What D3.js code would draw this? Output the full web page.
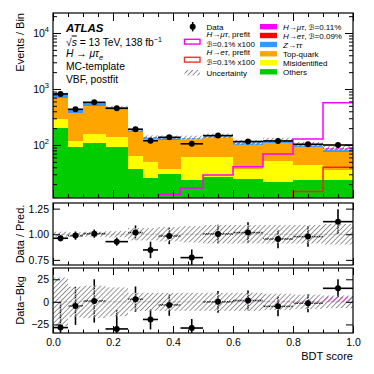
<!DOCTYPE html>
<html>
<head>
<meta charset="utf-8">
<script src="https://cdn.jsdelivr.net/npm/d3@7"></script>
<style>
body { margin: 0; background: #fff; }
text { font-family: "Liberation Sans", Arial, Helvetica, "DejaVu Sans", sans-serif; fill: #000; }
</style>
</head>
<body>
<script>
// BDT score bin edges
var edges = [0, 0.05, 0.1, 0.175, 0.25, 0.3, 0.35, 0.425, 0.5, 0.6, 0.7, 0.8, 0.9, 1.0];

// Postfit yields per bin (stacked bottom-up)
var others  = [199, 91, 109, 93, 37, 26, 30, 24, 27, 25, 22, 24, 24];
var misid   = [92, 27, 48, 44, 27, 24, 7, 38, 33, 12, 30, 20, 12];
var topq    = [389, 257, 346, 327, 105, 78, 86, 64, 72, 63, 55, 49, 40];
var ztt     = [160, 62, 70, 22, 18, 12, 15, 10, 14, 12, 16, 10, 8];
var hetPost = [0, 0, 0, 0, 0, 0, 0, 0, 0.1, 0.2, 0.3, 0.4, 0.5];
var hmtPost = [0, 0, 0, 0, 0, 0, 0, 0, 0.2, 0.3, 0.5, 1.0, 5];

// relative uncertainty of the prediction
var relUnc = [0.025, 0.02, 0.025, 0.03, 0.06, 0.06, 0.07, 0.08, 0.09, 0.09, 0.09, 0.09, 0.1];

// Prefit signals, B=0.1% x100
var prefitMuTau = [3, 3, 4, 5, 7, 9, 13, 17, 29, 41, 69, 128, 569];
var prefitETau  = [1, 1, 1, 1, 1, 1, 2, 2, 3, 5, 8, 14.7, 40];

// Data
var data    = [815, 434, 578, 452, 191, 119, 137, 105, 147, 115, 118, 103, 100];
var dataErr = [29, 21, 24, 21, 14, 11, 12, 10, 12, 11, 11, 10, 10];

// Data / Pred.
var ratio    = [0.961, 0.987, 1.006, 0.928, 1.016, 0.847, 0.983, 0.772, 1.003, 1.016, 0.954, 0.977, 1.123];
var ratioErr = [0.03, 0.04, 0.04, 0.04, 0.07, 0.08, 0.08, 0.08, 0.09, 0.1, 0.09, 0.1, 0.12];

// Data - Bkg
var diff   = [-28.5, -4.5, 1, -30, 3, -19.5, -3.4, -29, 0, 1.5, -5, -1.5, 15];
var bkgUnc = [27, 17, 18, 16, 10, 10, 10, 10, 10, 10, 9, 8, 7];

// ticks
var xTicks = [0, 0.2, 0.4, 0.6, 0.8, 1.0];
var xMinor = d3.range(0, 1.0001, 0.05);
var yTopTicks = [100, 1000, 10000];
var ratioTicks = [0.75, 1.0, 1.25];
var diffTicks = [-25, 0, 25];

var keys = ["others", "misid", "topq", "ztt", "hetPost", "hmtPost"];
var colors = {others: "#00cc00", misid: "#ffff00", topq: "#ffa500", ztt: "#3399ff", hetPost: "#ff0000", hmtPost: "#ff00ff"};

var W = 374, H = 374;
var L = 53, R = 353;
var pTop = [13, 198], pRat = [203, 265], pDif = [268, 333];

var x = d3.scaleLinear().domain([0, 1]).range([L, R]);
var yTop = d3.scaleLog().domain([11.3, 22750]).range([pTop[1], pTop[0]]);
var yRat = d3.scaleLinear().domain([0.7, 1.305]).range([pRat[1], pRat[0]]);
var yDif = d3.scaleLinear().domain([-34.5, 37.5]).range([pDif[1], pDif[0]]);

var table = edges.slice(0, -1).map(function(e, i) {
	return {i: i, x0: e, x1: edges[i+1], others: others[i], misid: misid[i], topq: topq[i],
			ztt: ztt[i], hetPost: hetPost[i], hmtPost: hmtPost[i]};
});
var series = d3.stack().keys(keys)(table);
var total = table.map(function(d) { return d3.sum(keys, function(k) { return d[k]; }); });

var svg = d3.select("body").append("svg").attr("width", W).attr("height", H);
var defs = svg.append("defs");

function hatch(id, color, bg, w) {
	var p = defs.append("pattern").attr("id", id)
		.attr("patternUnits", "userSpaceOnUse")
		.attr("width", 3.5).attr("height", 3.5)
		.attr("patternTransform", "rotate(45)");
	p.append("rect").attr("x", 0).attr("y", 0).attr("width", w).attr("height", 3.5).attr("fill", color);
	if (bg) p.append("rect").attr("x", 1.75).attr("y", 0).attr("width", 1).attr("height", 3.5).attr("fill", bg);
}
hatch("hgrey", "#8c8c8c", "#fff", 0.9);
hatch("hmag", "#ff00ff", null, 1.3);

function clip(id, p) {
	defs.append("clipPath").attr("id", id).append("rect")
		.attr("x", L).attr("y", p[0]).attr("width", R - L).attr("height", p[1] - p[0]);
}
clip("cTop", pTop); clip("cRat", pRat); clip("cDif", pDif);

function stepLine(vals, yS) {
	var pts = vals.map(function(v, i) { return [edges[i], v]; });
	pts.push([edges[edges.length-1], vals[vals.length-1]]);
	return d3.line().curve(d3.curveStepAfter)
		.x(function(d) { return x(d[0]); })
		.y(function(d) { return yS(d[1]); })(pts);
}

// ---- main panel ----
var gTop = svg.append("g").attr("clip-path", "url(#cTop)");

series.forEach(function(s) {
	gTop.selectAll(null).data(s).enter().append("rect")
		.attr("x", function(d) { return x(d.data.x0); })
		.attr("width", function(d) { return x(d.data.x1) - x(d.data.x0); })
		.attr("y", function(d) { return yTop(Math.max(d[1], 1)); })
		.attr("height", function(d) { return Math.max(0, yTop(Math.max(d[0], 1)) - yTop(Math.max(d[1], 1))); })
		.attr("fill", colors[s.key])
		.attr("shape-rendering", "crispEdges");
});

gTop.selectAll(null).data(table).enter().append("rect")
	.attr("x", function(d) { return x(d.x0); })
	.attr("width", function(d) { return x(d.x1) - x(d.x0); })
	.attr("y", function(d) { return yTop(total[d.i] * (1 + relUnc[d.i])); })
	.attr("height", function(d) { return yTop(total[d.i] * (1 - relUnc[d.i])) - yTop(total[d.i] * (1 + relUnc[d.i])); })
	.attr("fill", "url(#hgrey)");

gTop.append("path").attr("d", stepLine(prefitETau, yTop))
	.attr("fill", "none").attr("stroke", "#ff2020").attr("stroke-width", 1.5);
gTop.append("path").attr("d", stepLine(prefitMuTau, yTop))
	.attr("fill", "none").attr("stroke", "#ff00ff").attr("stroke-width", 1.5);

function drawPoints(g, vals, errs, yS) {
	g.selectAll(null).data(table).enter().append("line")
		.attr("x1", function(d) { return x(d.x0); }).attr("x2", function(d) { return x(d.x1); })
		.attr("y1", function(d) { return yS(vals[d.i]); }).attr("y2", function(d) { return yS(vals[d.i]); })
		.attr("stroke", "#000").attr("stroke-width", 1.6);
	g.selectAll(null).data(table).enter().append("line")
		.attr("x1", function(d) { return x((d.x0 + d.x1) / 2); }).attr("x2", function(d) { return x((d.x0 + d.x1) / 2); })
		.attr("y1", function(d) { return yS(vals[d.i] - errs[d.i]); }).attr("y2", function(d) { return yS(vals[d.i] + errs[d.i]); })
		.attr("stroke", "#000").attr("stroke-width", 1.6);
}
function drawMarkers(g, vals, yS) {
	g.selectAll(null).data(table).enter().append("circle")
		.attr("cx", function(d) { return x((d.x0 + d.x1) / 2); })
		.attr("cy", function(d) { return yS(vals[d.i]); })
		.attr("r", 3).attr("fill", "#000");
}
drawPoints(gTop, data, dataErr, yTop);
drawMarkers(gTop, data, yTop);

// ---- ratio panel ----
var gRat = svg.append("g").attr("clip-path", "url(#cRat)");
gRat.append("line").attr("x1", L).attr("x2", R).attr("y1", yRat(1)).attr("y2", yRat(1))
	.attr("stroke", "#b0b0b0").attr("stroke-width", 1);
drawPoints(gRat, ratio, ratioErr, yRat);
gRat.selectAll(null).data(table).enter().append("rect")
	.attr("x", function(d) { return x(d.x0); })
	.attr("width", function(d) { return x(d.x1) - x(d.x0); })
	.attr("y", function(d) { return yRat(1 + relUnc[d.i]); })
	.attr("height", function(d) { return yRat(1 - relUnc[d.i]) - yRat(1 + relUnc[d.i]); })
	.attr("fill", "url(#hgrey)");
drawMarkers(gRat, ratio, yRat);

// ---- data - bkg panel ----
var gDif = svg.append("g").attr("clip-path", "url(#cDif)");
gDif.append("line").attr("x1", L).attr("x2", R).attr("y1", yDif(0)).attr("y2", yDif(0))
	.attr("stroke", "#b0b0b0").attr("stroke-width", 1);
gDif.selectAll(null).data(table).enter().append("rect")
	.attr("x", function(d) { return x(d.x0); })
	.attr("width", function(d) { return x(d.x1) - x(d.x0); })
	.attr("y", function(d) { return yDif(hmtPost[d.i] + hetPost[d.i]); })
	.attr("height", function(d) { return yDif(0) - yDif(hmtPost[d.i] + hetPost[d.i]); })
	.attr("fill", "url(#hmag)");
drawPoints(gDif, diff, dataErr, yDif);
gDif.selectAll(null).data(table).enter().append("rect")
	.attr("x", function(d) { return x(d.x0); })
	.attr("width", function(d) { return x(d.x1) - x(d.x0); })
	.attr("y", function(d) { return yDif(bkgUnc[d.i]); })
	.attr("height", function(d) { return yDif(-bkgUnc[d.i]) - yDif(bkgUnc[d.i]); })
	.attr("fill", "url(#hgrey)");
drawMarkers(gDif, diff, yDif);

// ---- frames and axes ----
function frame(p, yS, major, minor, fmt, majLen, minLen) {
	var g = svg.append("g");
	g.append("g").attr("transform", "translate(0," + p[1] + ")")
		.call(d3.axisBottom(x).tickValues(xMinor).tickSize(-minLen).tickFormat(""));
	g.append("g").attr("transform", "translate(0," + p[1] + ")").attr("class", "xlab")
		.call(d3.axisBottom(x).tickValues(xTicks).tickSize(-majLen).tickPadding(6).tickFormat(d3.format(".1f")));
	g.append("g").attr("transform", "translate(0," + p[0] + ")")
		.call(d3.axisTop(x).tickValues(xMinor).tickSize(-minLen).tickFormat(""));
	g.append("g").attr("transform", "translate(0," + p[0] + ")")
		.call(d3.axisTop(x).tickValues(xTicks).tickSize(-majLen).tickFormat(""));
	g.append("g").attr("transform", "translate(" + L + ",0)").attr("class", "ylab")
		.call(d3.axisLeft(yS).tickValues(major).tickSize(-majLen).tickPadding(4).tickFormat(fmt));
	g.append("g").attr("transform", "translate(" + R + ",0)")
		.call(d3.axisRight(yS).tickValues(major).tickSize(-majLen).tickFormat(""));
	if (minor) {
		g.append("g").attr("transform", "translate(" + L + ",0)")
			.call(d3.axisLeft(yS).tickValues(minor).tickSize(-minLen).tickFormat(""));
		g.append("g").attr("transform", "translate(" + R + ",0)")
			.call(d3.axisRight(yS).tickValues(minor).tickSize(-minLen).tickFormat(""));
	}
	g.selectAll(".domain").remove();
	g.selectAll(".tick line").attr("stroke", "#000").attr("stroke-width", 1);
	g.selectAll("text").attr("font-size", "10.5px").attr("font-family", null).attr("fill", "#000");
	g.append("rect").attr("x", L).attr("y", p[0]).attr("width", R - L).attr("height", p[1] - p[0])
		.attr("fill", "none").attr("stroke", "#000").attr("stroke-width", 1.2);
	return g;
}

var logMinor = [];
[10, 100, 1000, 10000].forEach(function(dec) {
	for (var k = 2; k <= 9; k++) {
		var v = dec * k;
		if (v > yTop.domain()[0] && v < yTop.domain()[1]) logMinor.push(v);
	}
});

var fTop = frame(pTop, yTop, yTopTicks, logMinor, function() { return ""; }, 8, 4);
fTop.selectAll(".xlab text").remove();
var fRat = frame(pRat, yRat, ratioTicks, null, d3.format(".2f"), 7, 3.5);
fRat.selectAll(".xlab text").remove();
var fDif = frame(pDif, yDif, diffTicks, null, d3.format("d"), 7, 3.5);

// log labels 10^n
yTopTicks.forEach(function(v) {
	var t = svg.append("text").attr("x", 49).attr("y", yTop(v) + 4)
		.attr("text-anchor", "end").attr("font-size", "10.5px");
	t.append("tspan").text("10");
	t.append("tspan").attr("dy", -5).attr("font-size", "7.5px").text(Math.round(Math.log10(v)));
});

// axis titles
svg.append("text").attr("transform", "translate(24," + pTop[0] + ") rotate(-90)")
	.attr("text-anchor", "end").attr("font-size", "11px").text("Events / Bin");
svg.append("text").attr("transform", "translate(24," + ((pRat[0] + pRat[1]) / 2) + ") rotate(-90)")
	.attr("text-anchor", "middle").attr("font-size", "11px").text("Data / Pred.");
svg.append("text").attr("transform", "translate(24," + ((pDif[0] + pDif[1]) / 2) + ") rotate(-90)")
	.attr("text-anchor", "middle").attr("font-size", "11px").text("Data\u2212Bkg");
svg.append("text").attr("x", R).attr("y", 360).attr("text-anchor", "end")
	.attr("font-size", "11px").text("BDT score");

// ATLAS label
var tx = 66;
svg.append("text").attr("x", tx).attr("y", 31.5).attr("font-size", "11.5px")
	.attr("font-weight", "bold").attr("font-style", "italic").text("ATLAS");
var t2 = svg.append("text").attr("x", tx).attr("y", 45.5).attr("font-size", "10.3px");
t2.append("tspan").text("\u221A");
t2.append("tspan").attr("font-style", "italic").attr("text-decoration", "overline").text("s");
t2.append("tspan").text(" = 13 TeV, 138 fb");
t2.append("tspan").attr("dy", -4).attr("font-size", "7px").text("\u22121");
var t3 = svg.append("text").attr("x", tx).attr("y", 57).attr("font-size", "10.3px");
t3.append("tspan").attr("font-style", "italic").text("H");
t3.append("tspan").text(" \u2192 ");
t3.append("tspan").attr("font-style", "italic").text("\u03BC\u03C4");
t3.append("tspan").attr("font-style", "italic").attr("dy", 2.5).attr("font-size", "7.5px").text("e");
svg.append("text").attr("x", tx).attr("y", 70).attr("font-size", "10.3px").text("MC-template");
svg.append("text").attr("x", tx).attr("y", 83).attr("font-size", "10.3px").text("VBF, postfit");

// legend
var legFont = "8px";
function richText(sel, parts) {
	parts.forEach(function(p) {
		var ts = sel.append("tspan").text(p[0]);
		if (p[1]) ts.attr("font-style", "italic");
		if (p[2]) ts.attr("font-family", "DejaVu Sans").attr("font-size", "7.5px");
	});
}
var legRight = [
	{fill: colors.hmtPost, y: 26.7, parts: [["H", 1], ["\u2192"], ["\u03BC\u03C4", 1], [", "], ["\u212C", 1, 1], ["=0.11%"]]},
	{fill: colors.hetPost, y: 35.5, parts: [["H", 1], ["\u2192"], ["e\u03C4", 1], [", "], ["\u212C", 1, 1], ["=0.09%"]]},
	{fill: colors.ztt, y: 44.5, parts: [["Z", 1], ["\u2192"], ["\u03C4\u03C4", 1]]},
	{fill: colors.topq, y: 53.8, parts: [["Top-quark"]]},
	{fill: colors.misid, y: 62.7, parts: [["Misidentified"]]},
	{fill: colors.others, y: 71.8, parts: [["Others"]]}
];
legRight.forEach(function(l) {
	svg.append("rect").attr("x", 260).attr("y", l.y - 2.7).attr("width", 17).attr("height", 5.4).attr("fill", l.fill);
	richText(svg.append("text").attr("x", 283).attr("y", l.y + 3).attr("font-size", legFont), l.parts);
});

// left legend column
svg.append("line").attr("x1", 192.7).attr("x2", 192.7).attr("y1", 22).attr("y2", 31.4)
	.attr("stroke", "#000").attr("stroke-width", 1.6);
svg.append("circle").attr("cx", 192.7).attr("cy", 26.7).attr("r", 3).attr("fill", "#000");
richText(svg.append("text").attr("x", 206.5).attr("y", 29.7).attr("font-size", legFont), [["Data"]]);

svg.append("rect").attr("x", 184.5).attr("y", 39.3).attr("width", 15.5).attr("height", 4.8)
	.attr("fill", "none").attr("stroke", "#ff00ff").attr("stroke-width", 1.4);
richText(svg.append("text").attr("x", 206.5).attr("y", 37.3).attr("font-size", legFont),
	[["H", 1], ["\u2192"], ["\u03BC\u03C4", 1], [", prefit"]]);
richText(svg.append("text").attr("x", 206.5).attr("y", 47.3).attr("font-size", legFont),
	[["\u212C", 1, 1], ["=0.1% x100"]]);

svg.append("rect").attr("x", 184.5).attr("y", 57.3).attr("width", 15.5).attr("height", 4.8)
	.attr("fill", "none").attr("stroke", "#ff3030").attr("stroke-width", 1.4);
richText(svg.append("text").attr("x", 206.5).attr("y", 55.3).attr("font-size", legFont),
	[["H", 1], ["\u2192"], ["e\u03C4", 1], [", prefit"]]);
richText(svg.append("text").attr("x", 206.5).attr("y", 65.3).attr("font-size", legFont),
	[["\u212C", 1, 1], ["=0.1% x100"]]);

svg.append("rect").attr("x", 184.5).attr("y", 70).attr("width", 15.5).attr("height", 5.4)
	.attr("fill", "url(#hgrey)");
richText(svg.append("text").attr("x", 206.5).attr("y", 75.5).attr("font-size", legFont), [["Uncertainty"]]);
</script>
</body>
</html>
